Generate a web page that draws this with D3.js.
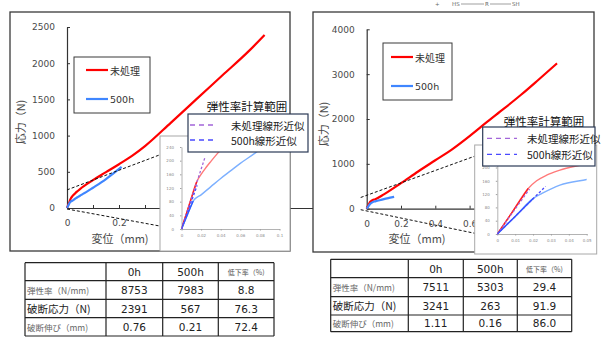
<!DOCTYPE html>
<html><head><meta charset="utf-8">
<script src="https://cdn.jsdelivr.net/npm/d3@7"></script>
<style>body{margin:0;background:#fff}svg{display:block}</style>
</head><body><svg id="c" width="614" height="339"></svg>
<script>
// ---------- data ----------
// left panel (sample A)
const dispUntreatedA = [0,0.004,0.008,0.0155,0.02,0.025,0.03,0.037,0.05,0.1,0.15,0.2,0.25,0.3,0.4,0.5,0.6,0.7,0.76];
const stressUntreatedA = [0,36,72,138,160,180,198,222,262,385,495,605,720,855,1180,1510,1840,2170,2391];
const disp500hA = [0,0.006,0.012,0.02,0.03,0.04,0.05,0.06,0.075,0.1,0.15,0.21];
const stress500hA = [0,42,82,100,124,148,170,192,222,280,400,567];
// right panel (sample B)
const dispUntreatedB = [0,0.008,0.0173,0.022,0.0276,0.035,0.05,0.1,0.2,0.3,0.4,0.5,0.6,0.7,0.8,0.9,1.0,1.11];
const stressUntreatedB = [0,63,137,160,177,192,212,320,570,830,1080,1330,1620,1930,2230,2540,2870,3241];
const disp500hB = [0,0.01,0.0201,0.025,0.035,0.05,0.07,0.1,0.13,0.16];
const stress500hB = [0,53,107,122,147,164,185,215,240,263];
// elastic modulus (slope of linear fit) and fit ranges
const modulusA = [8753, 7983];
const fitEndA = [0.024, 0.016];
const satEndA = [0.0155, 0.012];
const modulusB = [7511, 5303];
const fitEndB = [0.018, 0.027];
const satEndB = [0.0173, 0.0201];
// ticks
const xTicksA = [0,0.1,0.2,0.3,0.4,0.5,0.6,0.7,0.8];
const yTicksA = [0,500,1000,1500,2000,2500];
const xTicksB = [0,0.2,0.4,0.6,0.8,1.0,1.2];
const yTicksB = [0,1000,2000,3000,4000];
const insetXTicksA = [0,0.02,0.04,0.06,0.08,0.1];
const insetXTicksB = [0,0.01,0.02,0.03,0.04,0.05];
const insetYTicks = [0,40,80,120,160,200,240];
// labels
const seriesNames = ["未処理","500h"];
const fitNames = ["未処理線形近似","500h線形近似"];
const tableCols = ["0h","500h","低下率（%)"];
const tableRows = ["弾性率（N/mm)","破断応力（N)","破断伸び（mm)"];
const tableA = [["8753","7983","8.8"],["2391","567","76.3"],["0.76","0.21","72.4"]];
const tableB = [["7511","5303","29.4"],["3241","263","91.9"],["1.11","0.16","86.0"]];

// ---------- drawing ----------
const svg = d3.select('#c');
const JP = "'Noto Sans CJK JP','Noto Sans CJK SC',sans-serif";
const NUM = "'DejaVu Sans',sans-serif";
const RED = '#ff0000', BLUE = '#3f86ff';
const zip = (a,b) => a.map((v,i)=>[v,b[i]]);

function panel(p){
  const g = svg.append('g');
  const [fx0,fy0,fx1,fy1] = p.frame;
  g.append('rect').attr('x',fx0).attr('y',fy0).attr('width',fx1-fx0).attr('height',fy1-fy0)
    .attr('fill','#fff').attr('stroke','#3a3a3a').attr('stroke-width',1.3);
  const x = d3.scaleLinear().domain(p.xDom).range(p.xRange);
  const y = d3.scaleLinear().domain(p.yDom).range(p.yRange);
  const ay = g.append('g').attr('transform',`translate(${x(0)},0)`)
    .call(d3.axisLeft(y).tickValues(p.yTicks).tickSizeInner(-3).tickSizeOuter(0).tickPadding(12).tickFormat(d3.format('d')));
  const ax = g.append('g').attr('transform',`translate(0,${y(0)})`)
    .call(d3.axisBottom(x).tickValues(p.xTicks).tickSizeInner(-3).tickSizeOuter(0).tickPadding(12)
      .tickFormat(p.xFmt));
  [ax,ay].forEach(a=>{
    a.select('.domain').attr('stroke','#333').attr('stroke-width',1.2);
    a.selectAll('.tick line').attr('stroke','#333');
    a.selectAll('text').attr('font-family',NUM).attr('font-size',9).attr('fill','#4a4a4a');
  });
  // labels that fall completely behind the inset box are not drawn (hidden in the original)
  ax.selectAll('.tick').filter(d=>x(d) > p.inset.box[0]+2).select('text').remove();
  g.append('text').attr('transform',`translate(${p.yLab[0]},${p.yLab[1]}) rotate(-90)`)
    .attr('text-anchor','middle').attr('dominant-baseline','central')
    .attr('font-family',JP).attr('font-size',11).attr('fill','#4a4a4a').text('応力（N)');
  g.append('text').attr('x',p.xLab[0]).attr('y',p.xLab[1]).attr('text-anchor','middle')
    .attr('dominant-baseline','central').attr('font-family',JP).attr('font-size',11)
    .attr('fill','#4a4a4a').text('変位（mm)');
  const line = d3.line().x(d=>x(d[0])).y(d=>y(d[1])).curve(d3.curveMonotoneX);
  p.series.forEach((s,i)=>{
    g.append('path').attr('d',line(s)).attr('fill','none').attr('stroke',[RED,BLUE][i]).attr('stroke-width',2.2);
  });
  const [lx0,ly0,lx1,ly1] = p.leg1.box;
  g.append('rect').attr('x',lx0).attr('y',ly0).attr('width',lx1-lx0).attr('height',ly1-ly0)
    .attr('fill','#fff').attr('stroke','#3a3a3a').attr('stroke-width',1);
  seriesNames.forEach((n,i)=>{
    const yy = p.leg1.ys[i];
    g.append('line').attr('x1',p.leg1.line[0]).attr('x2',p.leg1.line[1]).attr('y1',yy).attr('y2',yy)
      .attr('stroke',[RED,BLUE][i]).attr('stroke-width',2.2);
    g.append('text').attr('x',p.leg1.tx).attr('y',yy).attr('dominant-baseline','central')
      .attr('font-family',i?NUM:JP).attr('font-size',i?9.5:10).attr('fill','#333').text(n);
  });
  const xi = d3.scaleLinear().domain(p.inset.xDom).range(p.inset.xRange);
  const yi = d3.scaleLinear().domain([0,240]).range(p.inset.yRange);
  p.connectors(x,y,xi,yi).forEach(c=>{
    g.append('line').attr('x1',c[0]).attr('y1',c[1]).attr('x2',c[2]).attr('y2',c[3])
      .attr('stroke','#111').attr('stroke-width',1).attr('stroke-dasharray','3,2');
  });
  const [ix0,iy0,ix1,iy1] = p.inset.box;
  g.append('rect').attr('x',ix0).attr('y',iy0).attr('width',ix1-ix0).attr('height',iy1-iy0)
    .attr('fill','#fff').attr('stroke','#a8a8a8').attr('stroke-width',1);
  const ig = g.append('g');
  const iax = ig.append('g').attr('transform',`translate(0,${yi(0)})`)
    .call(d3.axisBottom(xi).tickValues(p.inset.xTicks).tickSizeInner(1.5).tickSizeOuter(0).tickPadding(4)
      .tickFormat(d=>d===0?'0':String(+d.toFixed(2))));
  const iay = ig.append('g').attr('transform',`translate(${xi(0)},0)`)
    .call(d3.axisLeft(yi).tickValues(insetYTicks).tickSizeInner(1.5).tickSizeOuter(0).tickPadding(6));
  [iax,iay].forEach(a=>{
    a.select('.domain').attr('stroke','#a0a0a0').attr('stroke-width',0.8);
    a.selectAll('.tick line').attr('stroke','#a0a0a0');
    a.selectAll('text').attr('font-family',NUM).attr('font-size',4).attr('fill','#8a8a8a');
  });
  const cid = 'clip'+p.id;
  svg.append('clipPath').attr('id',cid).append('rect')
    .attr('x',xi(0)).attr('y',yi(240)).attr('width',xi(p.inset.xDom[1])-xi(0)).attr('height',yi(0)-yi(240)+1);
  const cg = ig.append('g').attr('clip-path',`url(#${cid})`);
  const iline = d3.line().x(d=>xi(d[0])).y(d=>yi(d[1])).curve(d3.curveMonotoneX);
  p.series.forEach((s,i)=>{
    cg.append('path').attr('d',iline(s)).attr('fill','none').attr('stroke',['#ff7a7a','#7db0ff'][i]).attr('stroke-width',1.4);
  });
  p.series.forEach((s,i)=>{
    const seg = s.filter(d=>d[0]<=p.satEnd[i]+1e-9);
    cg.append('path').attr('d',iline(seg)).attr('fill','none').attr('stroke',['#ff1a1a','#2a5cff'][i]).attr('stroke-width',1.4);
  });
  p.modulus.forEach((m,i)=>{
    cg.append('line').attr('x1',xi(0)).attr('y1',yi(0)).attr('x2',xi(p.fitEnd[i])).attr('y2',yi(m*p.fitEnd[i]))
      .attr('stroke',['#a366d9','#4a4aff'][i]).attr('stroke-width',1.3).attr('stroke-dasharray','2.5,2');
  });
  g.append('text').attr('x',p.title[0]).attr('y',p.title[1]).attr('text-anchor','middle')
    .attr('dominant-baseline','central').attr('font-family',JP).attr('font-size',11.5).attr('fill','#111')
    .text('弾性率計算範囲');
  const [bx0,by0,bx1,by1] = p.leg2.box;
  g.append('rect').attr('x',bx0).attr('y',by0).attr('width',bx1-bx0).attr('height',by1-by0)
    .attr('fill','#fff').attr('stroke','#2b3a55').attr('stroke-width',1.2);
  fitNames.forEach((n,i)=>{
    const yy = p.leg2.ys[i];
    g.append('line').attr('x1',p.leg2.line[0]).attr('x2',p.leg2.line[1]).attr('y1',yy).attr('y2',yy)
      .attr('stroke',['#a366d9','#4a4aff'][i]).attr('stroke-width',1.3).attr('stroke-dasharray','5,4');
    g.append('text').attr('x',p.leg2.tx).attr('y',yy).attr('dominant-baseline','central')
      .attr('font-family',JP).attr('font-size',10.5).attr('fill','#222').text(n);
  });
  const t = p.table;
  const tg = svg.append('g');
  t.rows.forEach(r=>tg.append('line').attr('x1',t.cols[0]).attr('x2',t.cols[t.cols.length-1]).attr('y1',r).attr('y2',r)
    .attr('stroke','#222').attr('stroke-width',1.2));
  t.cols.forEach(c=>tg.append('line').attr('x1',c).attr('x2',c).attr('y1',t.rows[0]).attr('y2',t.rows[t.rows.length-1])
    .attr('stroke','#222').attr('stroke-width',1.2));
  const cy = i=>(t.rows[i]+t.rows[i+1])/2;
  const cx = j=>(t.cols[j]+t.cols[j+1])/2;
  tableCols.forEach((c,j)=>{
    tg.append('text').attr('x',cx(j+1)).attr('y',cy(0)).attr('text-anchor','middle').attr('dominant-baseline','central')
      .attr('font-family',j===2?JP:NUM).attr('font-size',j===2?7:10.5).attr('fill',j===2?'#555':'#222').text(c);
  });
  tableRows.forEach((r,i)=>{
    const big = i===1;
    tg.append('text').attr('x',t.cols[0]+2).attr('y',cy(i+1)).attr('dominant-baseline','central')
      .attr('font-family',JP).attr('font-size',big?10.5:8.5).attr('fill',big?'#222':'#666').text(r);
    t.data[i].forEach((v,j)=>{
      tg.append('text').attr('x',cx(j+1)).attr('y',cy(i+1)).attr('text-anchor','middle').attr('dominant-baseline','central')
        .attr('font-family',NUM).attr('font-size',10.5).attr('fill','#222').text(v);
    });
  });
}

panel({
  id:'A', frame:[10,12,290,251],
  xDom:[0,1], xRange:[67,327], yDom:[0,2500], yRange:[208,27],
  xTicks:xTicksA, yTicks:yTicksA,
  xFmt:d=>Math.round(d*10)%2===0?(d===0?'0':String(+d.toFixed(1))):'',
  yLab:[20,122], xLab:[120,238],
  series:[zip(dispUntreatedA,stressUntreatedA), zip(disp500hA,stress500hA)],
  leg1:{box:[74,57,150,113], ys:[70,99], line:[86,108], tx:110},
  inset:{box:[160,136,290,251], xDom:[0,0.1], xRange:[181.5,279.5], yRange:[229,147], xTicks:insetXTicksA},
  connectors:(x,y,xi,yi)=>[[x(0),y(250),xi(0)-1,yi(240)],[x(0),y(0)+1,xi(0),yi(0)+1]],
  modulus:modulusA, fitEnd:fitEndA, satEnd:satEndA,
  title:[247,106],
  leg2:{box:[188,114,308,152], ys:[125,140], line:[190,215], tx:231},
  table:{cols:[25,106,162.7,218.3,274], rows:[262.7,280.7,299.3,317.7,336], data:tableA}
});
panel({
  id:'B', frame:[313,12,594,252],
  xDom:[0,1], xRange:[366.7,538.2], yDom:[0,4000], yRange:[208.7,29.3],
  xTicks:xTicksB, yTicks:yTicksB,
  xFmt:d=>d===0?'0':String(+d.toFixed(1)),
  yLab:[323,124], xLab:[417,238],
  series:[zip(dispUntreatedB,stressUntreatedB), zip(disp500hB,stress500hB)],
  leg1:{box:[383,43,452,100], ys:[57,86], line:[391,413], tx:415},
  inset:{box:[474.7,145,596.7,254], xDom:[0,0.05], xRange:[497.3,586.7], yRange:[234,154.2], xTicks:insetXTicksB},
  connectors:(x,y,xi,yi)=>[[x(0)-6,y(250),474.7,yi(240)+2],[x(0)-6,y(0)+1,xi(0)-7,yi(0)+2.5]],
  modulus:modulusB, fitEnd:fitEndB, satEnd:satEndB,
  title:[544,121],
  leg2:{box:[482.7,127,595,166], ys:[138.3,154.3], line:[487,517], tx:527},
  table:{cols:[330.7,408.3,463.3,517.3,571.7], rows:[259.3,277.7,296.7,315,331.7], data:tableB}
});

// structural formula fragment at the top edge
const topFrag = svg.append('g').attr('font-family',NUM).attr('font-size',5.5).attr('fill','#666');
topFrag.append('text').attr('x',435).attr('y',6).text('+');
topFrag.append('text').attr('x',452).attr('y',6).text('HS');
topFrag.append('text').attr('x',485).attr('y',6).text('R');
topFrag.append('text').attr('x',512).attr('y',6).text('SH');
[[461,484],[490,511]].forEach(s=>topFrag.append('line').attr('x1',s[0]).attr('x2',s[1]).attr('y1',4).attr('y2',4).attr('stroke','#777').attr('stroke-width',0.7));
</script></body></html>
